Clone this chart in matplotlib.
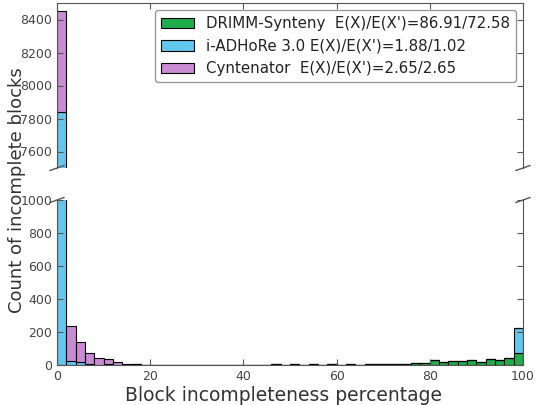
import matplotlib
matplotlib.use("Agg")
import matplotlib.pyplot as plt
import numpy as np

bin_edges = list(range(0, 100, 2))
bin_width = 2

drimm = [0, 0, 0, 0, 0, 0, 0, 1, 6, 1,
         1, 1, 1, 2, 1, 2, 1, 1, 2, 1,
         1, 1, 2, 6, 2, 6, 2, 6, 2, 5,
         2, 5, 3, 6, 7, 9, 6, 7, 14, 15,
         28, 16, 24, 24, 28, 18, 38, 28, 42, 72]
iadhore = [7840, 22, 16, 5, 3, 4, 2, 1, 1, 0,
           0, 0, 0, 0, 0, 0, 0, 0, 0, 0,
           0, 0, 0, 0, 0, 0, 0, 0, 0, 0,
           0, 0, 0, 0, 0, 0, 0, 0, 0, 0,
           0, 0, 0, 0, 0, 0, 0, 0, 0, 152]
cyntenator = [610, 214, 125, 66, 37, 31, 18, 6, 1, 0,
              0, 0, 0, 0, 0, 0, 0, 0, 0, 0,
              0, 0, 0, 0, 0, 0, 0, 0, 0, 0,
              0, 0, 0, 0, 0, 0, 0, 0, 0, 0,
              0, 0, 0, 0, 0, 0, 0, 0, 0, 0]

labels = ["DRIMM-Synteny  E(X)/E(X')=86.91/72.58",
          "i-ADHoRe 3.0 E(X)/E(X')=1.88/1.02",
          "Cyntenator  E(X)/E(X')=2.65/2.65"]
colors = ["#1fae4b", "#62c8ec", "#c98bd2"]

top_yticks = [7600, 7800, 8000, 8200, 8400]
bot_yticks = [0, 200, 400, 600, 800, 1000]
xticks = [0, 20, 40, 60, 80, 100]

fig = plt.figure(figsize=(5.38, 4.05), dpi=100)
L, R = 57 / 538, 523 / 538
ax_top = fig.add_axes([L, 1 - 168 / 405, R - L, 165 / 405])
ax_bot = fig.add_axes([L, 1 - 365 / 405, R - L, 165 / 405])

d = np.array(drimm)
b = np.array(iadhore)
c = np.array(cyntenator)
for ax in (ax_top, ax_bot):
    ax.bar(bin_edges, d, width=bin_width, align='edge', color=colors[0],
           edgecolor='black', linewidth=0.8, label=labels[0])
    ax.bar(bin_edges, b, width=bin_width, align='edge', bottom=d, color=colors[1],
           edgecolor='black', linewidth=0.8, label=labels[1])
    ax.bar(bin_edges, c, width=bin_width, align='edge', bottom=d + b, color=colors[2],
           edgecolor='black', linewidth=0.8, label=labels[2])
    ax.set_xlim(0, 100)
    ax.set_xticks(xticks)
    for s in ax.spines.values():
        s.set_color('#555555')
    ax.tick_params(direction='in', length=4, colors='#555555', labelcolor='#444444',
                   labelsize=9, right=True, top=True)

ax_top.set_ylim(7500, 8500)
ax_top.set_yticks(top_yticks)
ax_top.spines['bottom'].set_visible(False)
ax_top.tick_params(bottom=False, labelbottom=False)
ax_bot.set_ylim(0, 1000)
ax_bot.set_yticks(bot_yticks)
ax_bot.spines['top'].set_visible(False)
ax_bot.tick_params(top=False)

# break marks
dd = 0.015
kw = dict(color='#555555', clip_on=False, linewidth=1)
ax_top.plot((-dd, dd), (-dd, dd), transform=ax_top.transAxes, **kw)
ax_top.plot((1 - dd, 1 + dd), (-dd, dd), transform=ax_top.transAxes, **kw)
ax_bot.plot((-dd, dd), (1 - dd, 1 + dd), transform=ax_bot.transAxes, **kw)
ax_bot.plot((1 - dd, 1 + dd), (1 - dd, 1 + dd), transform=ax_bot.transAxes, **kw)

leg = ax_top.legend(loc='upper right', fontsize=10.8, fancybox=True,
                    handlelength=2.2, borderaxespad=0.5, framealpha=1)
leg.get_frame().set_edgecolor('#999999')
for t in leg.get_texts():
    t.set_color('#222222')

ax_bot.set_xlabel("Block incompleteness percentage", fontsize=13.5, color='#333333', labelpad=0)
ax_bot.xaxis.set_label_coords(0.485, -0.13)
fig.text(0.032, 0.53, "Count of incomplete blocks", rotation=90, fontsize=13,
         color='#333333', ha='center', va='center')

fig.savefig("out.png", dpi=100)
